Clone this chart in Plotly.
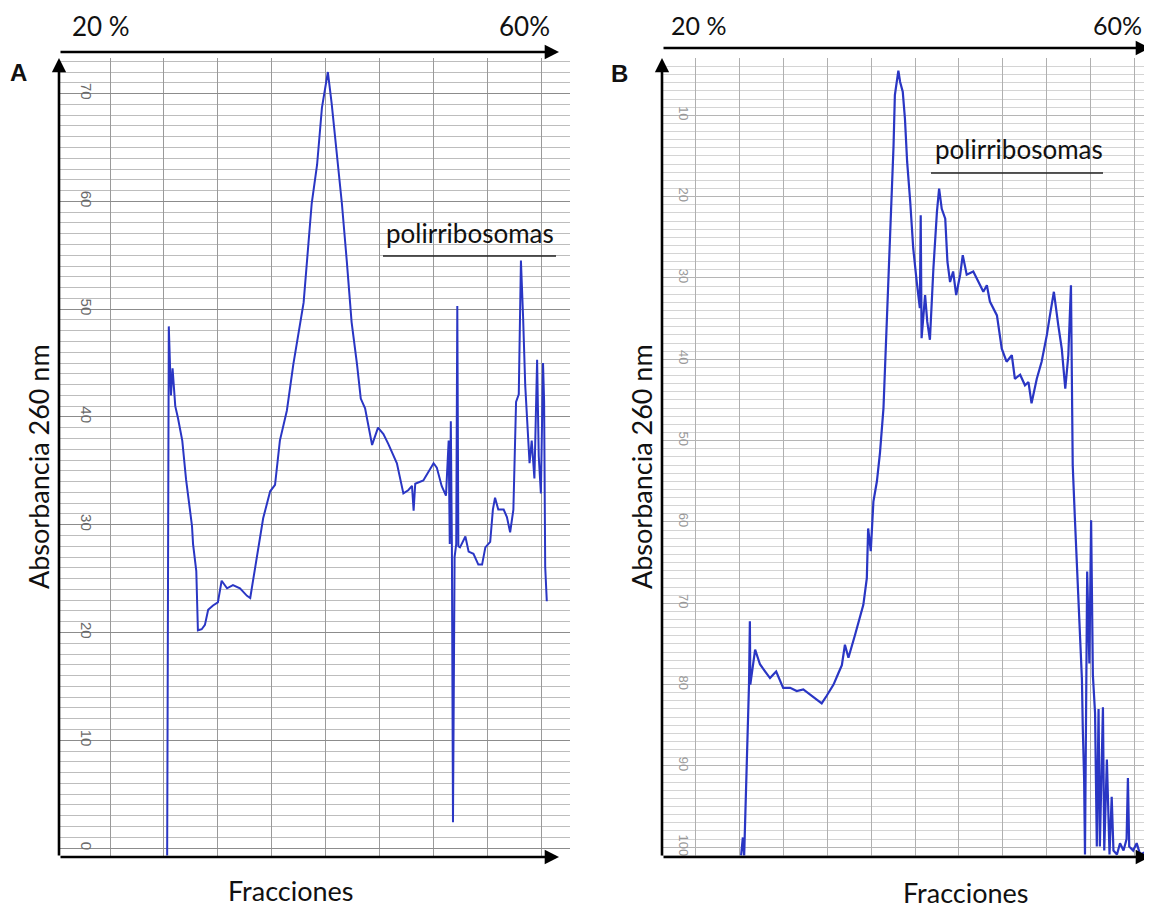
import plotly.graph_objects as go

W, H = 1144, 901   # page body has an 8px margin; keep the figure inside the 1152x909 window
OFF = 8

# ---------------- data (panel A) ----------------
a_x = [2.06, 2.09, 2.13, 2.16, 2.21, 2.26, 2.34, 2.41, 2.52, 2.54, 2.60, 2.63, 2.70, 2.76,
       2.82, 2.91, 3.00, 3.07, 3.17, 3.28, 3.41, 3.54, 3.60, 3.72, 3.84, 3.97, 4.06, 4.15,
       4.28, 4.40, 4.59, 4.74, 4.84, 4.93, 5.04, 5.11, 5.17, 5.22, 5.30, 5.39, 5.48, 5.58,
       5.65, 5.73, 5.86, 5.97, 6.07, 6.16, 6.26, 6.32, 6.38, 6.44, 6.53, 6.60, 6.63, 6.66,
       6.81, 6.91, 7.00, 7.06, 7.15, 7.23, 7.28, 7.30, 7.32, 7.34, 7.36, 7.39, 7.42, 7.44,
       7.46, 7.49, 7.59, 7.65, 7.74, 7.83, 7.90, 7.96, 8.05, 8.10, 8.14, 8.20, 8.30, 8.36,
       8.42, 8.48, 8.53, 8.58, 8.62, 8.66, 8.70, 8.78, 8.82, 8.87, 8.92, 8.95, 8.99, 9.03,
       9.05, 9.07, 9.10]
a_y = [-0.7, 48.4, 42.0, 44.5, 41.0, 39.9, 37.8, 34.2, 29.9, 28.2, 25.7, 20.2, 20.3, 20.7,
       22.1, 22.5, 22.8, 24.8, 24.1, 24.4, 24.1, 23.4, 23.2, 27.1, 30.6, 33.1, 33.7, 37.8,
       40.6, 44.9, 50.6, 59.8, 63.4, 68.7, 72.0, 69.1, 66.2, 64.1, 59.8, 54.5, 48.8, 44.9,
       41.7, 40.8, 37.4, 39.0, 38.4, 37.5, 36.4, 35.7, 34.3, 32.9, 33.2, 33.6, 31.3, 33.8,
       34.1, 35.0, 35.7, 35.3, 33.6, 32.7, 37.8, 28.2, 39.6, 27.9, 2.4, 27.0, 28.2, 50.3,
       28.0, 27.9, 28.9, 27.5, 27.3, 26.3, 26.3, 27.9, 28.4, 31.4, 32.5, 31.4, 31.4, 30.7,
       29.3, 31.4, 41.4, 42.1, 54.5, 49.3, 42.9, 35.7, 37.8, 34.3, 45.3, 36.4, 32.9, 45.0,
       41.4, 26.1, 22.9]
a_yticks = [0, 10, 20, 30, 40, 50, 60, 70]
a_ylabels = ["0", "10", "20", "30", "40", "50", "60", "70"]
a_xgrid = [1, 2, 3, 4, 5, 6, 7, 8, 9]
a_ygrid = list(range(0, 74))

# ---------------- data (panel B) ----------------
b_x = [2.03, 2.07, 2.10, 2.16, 2.21, 2.23, 2.24, 2.35, 2.46, 2.58, 2.69, 2.83, 2.92, 2.99,
       3.15, 3.30, 3.45, 3.60, 3.76, 3.87, 3.98, 4.14, 4.25, 4.33, 4.40, 4.48, 4.63, 4.82,
       4.90, 4.93, 4.99, 5.05, 5.13, 5.20, 5.28, 5.35, 5.43, 5.47, 5.51, 5.54, 5.62, 5.66,
       5.72, 5.77, 5.82, 5.89, 5.96, 6.04, 6.11, 6.13, 6.15, 6.23, 6.28, 6.34, 6.42, 6.50,
       6.55, 6.61, 6.69, 6.74, 6.80, 6.87, 6.94, 7.03, 7.09, 7.18, 7.33, 7.45, 7.56, 7.64,
       7.71, 7.87, 7.98, 8.09, 8.21, 8.28, 8.40, 8.51, 8.59, 8.66, 8.78, 8.89, 9.01, 9.08,
       9.17, 9.27, 9.35, 9.43, 9.50, 9.56, 9.57, 9.60, 9.65, 9.69, 9.73, 9.77, 9.81, 9.83,
       9.86, 9.88, 9.93, 9.98, 10.02, 10.06, 10.11, 10.15, 10.19, 10.22, 10.29, 10.32,
       10.38, 10.44, 10.49, 10.53, 10.61, 10.68, 10.76, 10.83, 10.86, 10.89, 10.98, 11.06,
       11.14, 11.25]
b_y = [101.0, 98.8, 101.0, 90.4, 80.0, 72.2, 80.0, 75.7, 77.5, 78.4, 79.2, 78.4, 79.6, 80.4,
       80.4, 80.8, 80.6, 81.2, 81.8, 82.3, 81.4, 80.0, 78.6, 77.6, 75.1, 76.7, 73.9, 70.2,
       66.9, 60.8, 63.6, 57.5, 55.0, 51.5, 46.0, 35.8, 26.4, 19.0, 13.7, 7.5, 4.5, 5.9,
       7.1, 10.4, 15.7, 20.6, 26.4, 30.5, 33.7, 22.3, 37.4, 32.1, 35.4, 37.6, 28.8, 21.9,
       19.0, 21.5, 22.7, 28.0, 30.5, 29.2, 32.1, 29.6, 27.2, 29.6, 29.2, 30.5, 31.7, 30.9,
       32.9, 34.6, 38.7, 40.3, 39.5, 42.4, 41.9, 43.2, 42.8, 45.4, 42.4, 40.3, 37.0, 34.6,
       31.7, 35.8, 38.7, 43.6, 39.5, 30.9, 38.0, 53.0, 59.6, 64.3, 68.0, 72.7, 79.3, 85.4,
       91.5, 100.9, 66.1, 77.4, 59.8, 78.8, 83.5, 99.9, 83.0, 99.9, 82.8, 100.4,
       89.2, 100.9, 93.8, 100.4, 100.9, 99.5, 100.4, 99.0, 91.5, 99.9, 100.4, 99.5,
       100.9, 100.6]
b_yticks = [10, 20, 30, 40, 50, 60, 70, 80, 90, 100]
b_ylabels = ["10", "20", "30", "40", "50", "60", "70", "80", "90", "100"]
b_xgrid = list(range(1, 12))
b_ygrid = list(range(3, 102))


def px(x):
    return (x - OFF) / W


def py(y):
    return 1 - (y - OFF) / H


LINE_BLUE = "#2a36c4"
FONT_TXT = "Lato"

fig = go.Figure()
fig.add_trace(go.Scatter(x=a_x, y=a_y, mode="lines", xaxis="x", yaxis="y",
                         line=dict(color=LINE_BLUE, width=2), showlegend=False,
                         hoverinfo="skip"))
fig.add_trace(go.Scatter(x=b_x, y=b_y, mode="lines", xaxis="x2", yaxis="y2",
                         line=dict(color=LINE_BLUE, width=2.2), showlegend=False,
                         hoverinfo="skip"))

common_x = dict(showticklabels=False, ticks="", zeroline=False, showline=False,
                tickmode="array", showgrid=True)

fig.update_layout(
    width=W, height=H, autosize=False,
    margin=dict(l=0, r=0, t=0, b=0),
    paper_bgcolor="white", plot_bgcolor="white",
    xaxis=dict(domain=[px(59), px(570)], range=[0.054, 9.53], tickvals=a_xgrid,
               gridcolor="#9a9a9a", gridwidth=1.4, anchor="y", **common_x),
    yaxis=dict(domain=[py(857), py(58)], range=[-0.83, 73.3], anchor="x",
               tickmode="array", tickvals=a_yticks, ticktext=a_ylabels,
               tickangle=90, ticklabelposition="inside", ticklabelstandoff=16,
               tickfont=dict(family="Liberation Sans", size=15, color="#6a6a6a"),
               ticks="", showline=False, zeroline=False,
               showgrid=True, gridcolor="#8c8c8c", gridwidth=1.3,
               minor=dict(tickmode="array", tickvals=a_ygrid, showgrid=True,
                          gridcolor="#bdbdbd", gridwidth=1, ticks="")),
    xaxis2=dict(domain=[px(662), px(1152)], range=[0.224, 11.41], tickvals=b_xgrid,
                gridcolor="#b0b0b0", gridwidth=1.3, anchor="y2", **common_x),
    yaxis2=dict(domain=[py(857), py(58)], range=[101.2, 2.95], autorange=False, anchor="x2",
                tickmode="array", tickvals=b_yticks, ticktext=b_ylabels,
                tickangle=90, ticklabelposition="inside", ticklabelstandoff=11,
                tickfont=dict(family="Liberation Sans", size=13, color="#9a9a9a"),
                ticks="", showline=False, zeroline=False,
                showgrid=True, gridcolor="#b5b5b5", gridwidth=1.2,
                minor=dict(tickmode="array", tickvals=b_ygrid, showgrid=True,
                           gridcolor="#d4d4d4", gridwidth=1, ticks="")),
)

ann = []
shapes = []


def arrow(x0, y0, x1, y1):
    ann.append(dict(xref="paper", yref="paper", x=px(x1), y=py(y1),
                    axref="pixel", ayref="pixel", ax=x0 - x1, ay=y0 - y1,
                    text="", showarrow=True, arrowhead=2, arrowsize=1.1,
                    arrowwidth=2.6, arrowcolor="black", standoff=0))


def text(x, y, s, size, bold=False, angle=0, family=FONT_TXT, xanchor="center"):
    ann.append(dict(xref="paper", yref="paper", x=px(x), y=py(y), text=(f"<b>{s}</b>" if bold else s),
                    showarrow=False, textangle=angle, xanchor=xanchor, yanchor="middle",
                    font=dict(family=family, size=size, color="#111111")))


# Panel A decorations
arrow(59, 52, 559, 52)
arrow(59, 857, 59, 58)
arrow(59, 857, 559, 857)
text(101, 26, "20 %", 26)
text(524, 26, "60%", 26)
text(18, 72, "A", 24, bold=True, family="Liberation Sans")
text(38, 467, "Absorbancia 260 nm", 27, angle=-90)
text(290, 890, "Fracciones", 27)
text(470, 233, "polirribosomas", 26)
shapes.append(dict(type="line", xref="paper", yref="paper", x0=px(383), x1=px(556),
                   y0=py(256), y1=py(256), line=dict(color="#222", width=1.3)))

# Panel B decorations
arrow(662, 48, 1150, 48)
arrow(662, 857, 662, 58)
arrow(662, 857, 1150, 857)
text(698, 25, "20 %", 25)
text(1117, 25, "60%", 25)
text(619, 74, "B", 24, bold=True, family="Liberation Sans")
text(641, 467, "Absorbancia 260 nm", 27, angle=-90)
text(965, 892, "Fracciones", 27)
text(1019, 149, "polirribosomas", 26)
shapes.append(dict(type="line", xref="paper", yref="paper", x0=px(931), x1=px(1103),
                   y0=py(173), y1=py(173), line=dict(color="#222", width=1.3)))

fig.update_layout(annotations=ann, shapes=shapes)
fig.write_html("out.html")
